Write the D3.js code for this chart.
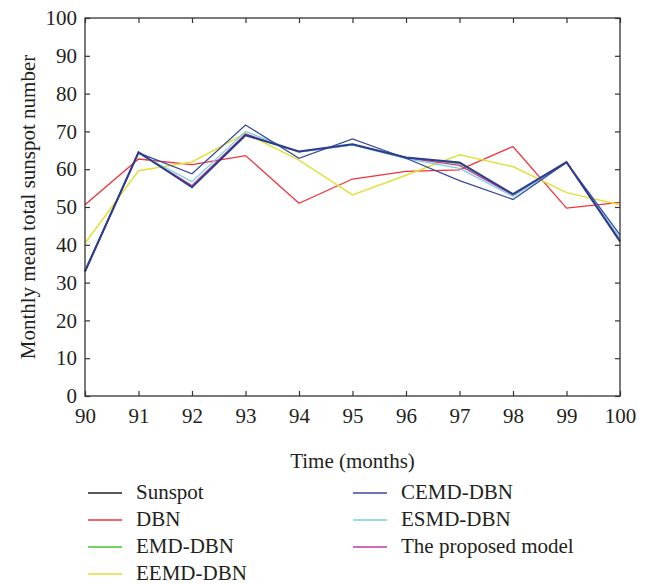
<!DOCTYPE html>
<html>
<head>
<meta charset="utf-8">
<script src="https://cdn.jsdelivr.net/npm/d3@7"></script>
<style>
  html, body { margin: 0; padding: 0; background: #fff; }
  svg text { font-family: "Liberation Serif", "Times New Roman", serif; fill: #231f20; }
</style>
</head>
<body>
<svg id="chart" width="651" height="584"></svg>
<script>
// Months on the x axis
const months = [90, 91, 92, 93, 94, 95, 96, 97, 98, 99, 100];

// Observed and forecast monthly mean sunspot numbers
const sunspot  = [33.0, 64.5, 55.2, 69.0, 64.7, 66.6, 63.1, 61.8, 53.4, 61.9, 40.9];
const dbn      = [50.6, 62.7, 61.2, 63.6, 51.0, 57.4, 59.4, 59.8, 66.0, 49.7, 51.2];
const emdDbn   = [33.2, 64.3, 55.5, 69.1, 64.6, 66.5, 63.1, 61.5, 53.3, 61.8, 41.0];
const eemdDbn  = [40.4, 59.6, 61.9, 69.5, 62.4, 53.2, 58.4, 63.8, 60.7, 53.8, 50.6];
const cemdDbn  = [32.8, 64.3, 58.8, 71.7, 62.9, 68.0, 62.9, 57.0, 52.0, 61.8, 42.6];
const esmdDbn  = [33.0, 64.2, 56.7, 70.0, 64.5, 66.4, 62.8, 60.2, 52.8, 61.7, 41.8];
const proposed = [33.0, 64.4, 55.7, 69.3, 64.6, 66.5, 63.0, 61.0, 53.2, 61.8, 41.2];

// Axis ticks
const xTicks = [90, 91, 92, 93, 94, 95, 96, 97, 98, 99, 100];
const yTicks = [0, 10, 20, 30, 40, 50, 60, 70, 80, 90, 100];

// Series in legend order
const series = [
  { name: "Sunspot",            values: sunspot,  color: "#2f3b8e", key: "#231f20", width: 2.0 },
  { name: "DBN",                values: dbn,      color: "#f0333a", key: "#f0333a", width: 1.3 },
  { name: "EMD-DBN",            values: emdDbn,   color: "#4cc02e", key: "#4cc02e", width: 1.3 },
  { name: "EEMD-DBN",           values: eemdDbn,  color: "#dfe23c", key: "#dfe23c", width: 1.5 },
  { name: "CEMD-DBN",           values: cemdDbn,  color: "#3a4a9e", key: "#3a4a9e", width: 1.3 },
  { name: "ESMD-DBN",           values: esmdDbn,  color: "#78d0de", key: "#78d0de", width: 1.3 },
  { name: "The proposed model", values: proposed, color: "#c23aa0", key: "#c23aa0", width: 1.3 }
];
// Stacking order of the lines (bottom to top)
const drawOrder = ["DBN", "EEMD-DBN", "EMD-DBN", "The proposed model", "ESMD-DBN", "CEMD-DBN", "Sunspot"];

const svg = d3.select("#chart");
const margin = { left: 85, right: 31, top: 18, bottom: 188 };
const W = 651, H = 584;

const x = d3.scaleLinear().domain([90, 100]).range([margin.left, W - margin.right]);
const y = d3.scaleLinear().domain([0, 100]).range([H - margin.bottom, margin.top]);

const axisColor = "#333";
const fontSize = 21;
const serif = '"Liberation Serif", "Times New Roman", serif';

// Lines
const line = d3.line().x((d, i) => x(months[i])).y(d => y(d));
const plot = svg.append("g");
drawOrder.forEach(n => {
  const s = series.find(d => d.name === n);
  plot.append("path")
    .datum(s.values)
    .attr("d", line)
    .attr("fill", "none")
    .attr("stroke", s.color)
    .attr("stroke-width", s.width)
    .attr("stroke-linejoin", "miter");
});

// Axes: box frame with inward ticks on all four sides
const tickLen = 5;
function styleAxis(g) {
  g.attr("font-family", null).attr("font-size", null);
  g.select(".domain").remove();
  g.selectAll(".tick line").attr("stroke", axisColor).attr("stroke-width", 1.2);
  g.selectAll(".tick text")
    .style("font-family", serif)
    .style("font-size", fontSize + "px")
    .attr("fill", "#231f20");
}

svg.append("g")
  .attr("transform", `translate(0,${y(0)})`)
  .call(d3.axisBottom(x).tickValues(xTicks).tickFormat(d3.format("d")).tickSizeInner(-tickLen).tickSizeOuter(0).tickPadding(12))
  .call(styleAxis);

svg.append("g")
  .attr("transform", `translate(0,${y(100)})`)
  .call(d3.axisTop(x).tickValues(xTicks).tickFormat("").tickSizeInner(-tickLen).tickSizeOuter(0))
  .call(styleAxis);

svg.append("g")
  .attr("transform", `translate(${x(90)},0)`)
  .call(d3.axisLeft(y).tickValues(yTicks).tickFormat(d3.format("d")).tickSizeInner(-tickLen).tickSizeOuter(0).tickPadding(8))
  .call(styleAxis);

svg.append("g")
  .attr("transform", `translate(${x(100)},0)`)
  .call(d3.axisRight(y).tickValues(yTicks).tickFormat("").tickSizeInner(-tickLen).tickSizeOuter(0))
  .call(styleAxis);

svg.append("rect")
  .attr("x", x(90)).attr("y", y(100))
  .attr("width", x(100) - x(90)).attr("height", y(0) - y(100))
  .attr("fill", "none").attr("stroke", axisColor).attr("stroke-width", 1.3);

// Axis titles
svg.append("text")
  .attr("x", (x(90) + x(100)) / 2).attr("y", 468)
  .attr("text-anchor", "middle").attr("font-size", fontSize)
  .text("Time (months)");

svg.append("text")
  .attr("transform", `translate(35,${(y(0) + y(100)) / 2}) rotate(-90)`)
  .attr("text-anchor", "middle").attr("font-size", fontSize)
  .text("Monthly mean total sunspot number");

// Legend in two columns
const legendCols = [
  { x: 88, names: ["Sunspot", "DBN", "EMD-DBN", "EEMD-DBN"] },
  { x: 353, names: ["CEMD-DBN", "ESMD-DBN", "The proposed model"] }
];
const rowY0 = 493, rowStep = 27;
legendCols.forEach(col => {
  col.names.forEach((n, i) => {
    const s = series.find(d => d.name === n);
    const yy = rowY0 + i * rowStep;
    svg.append("line")
      .attr("x1", col.x).attr("x2", col.x + 34)
      .attr("y1", yy).attr("y2", yy)
      .attr("stroke", s.key).attr("stroke-width", 1.5);
    svg.append("text")
      .attr("x", col.x + 48).attr("y", yy + 6)
      .attr("font-size", fontSize)
      .text(n);
  });
});
</script>
</body>
</html>
